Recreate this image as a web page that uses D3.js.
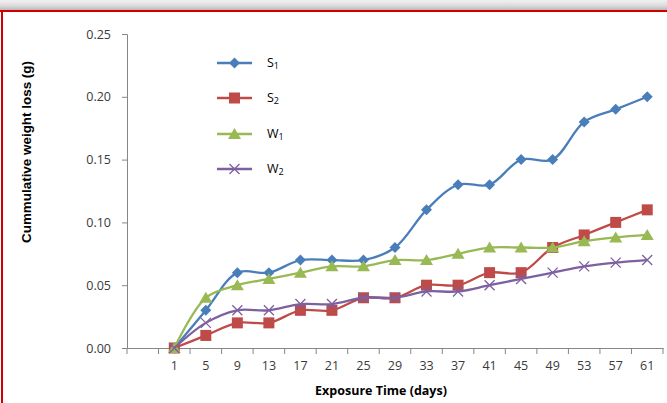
<html>
<title>Cummulative weight loss</title>
<script src="https://d3js.org/d3.v7.min.js"></script>
<style>
body { margin: 0; background: #fff; }
svg { display: block; }
.tick text { font-family: "Open Sans", sans-serif; font-size: 12.5px; fill: #3a3a3a; }
</style>
<body>
<svg id="chart" width="667" height="403"></svg>

<script>
// data
var days = ["", "1", "5", "9", "13", "17", "21", "25", "29", "33", "37", "41", "45", "49", "53", "57", "61"];
var s1 = [0, 0.03, 0.06, 0.06, 0.07, 0.07, 0.07, 0.08, 0.11, 0.13, 0.13, 0.15, 0.15, 0.18, 0.19, 0.20];
var s2 = [0, 0.01, 0.02, 0.02, 0.03, 0.03, 0.04, 0.04, 0.05, 0.05, 0.06, 0.06, 0.08, 0.09, 0.10, 0.11];
var w1 = [0, 0.04, 0.05, 0.055, 0.06, 0.065, 0.065, 0.07, 0.07, 0.075, 0.08, 0.08, 0.08, 0.085, 0.088, 0.09];
var w2 = [0, 0.02, 0.03, 0.03, 0.035, 0.035, 0.04, 0.04, 0.045, 0.045, 0.05, 0.055, 0.06, 0.065, 0.068, 0.07];
var yTicks = [0, 0.05, 0.10, 0.15, 0.20, 0.25];

var series = [
  { name: "S", sub: "1", values: s1, color: "#4A7EBB", marker: "diamond" },
  { name: "S", sub: "2", values: s2, color: "#BE4B48", marker: "square" },
  { name: "W", sub: "1", values: w1, color: "#98B954", marker: "triangle" },
  { name: "W", sub: "2", values: w2, color: "#7D60A0", marker: "cross" }
];

var svg = d3.select("#chart");

// window frame: grey bar on top, red border
var defs = svg.append("defs");
var grad = defs.append("linearGradient").attr("id", "topbar")
  .attr("x1", 0).attr("y1", 0).attr("x2", 0).attr("y2", 1);
grad.append("stop").attr("offset", "0%").attr("stop-color", "#f2f2f2");
grad.append("stop").attr("offset", "60%").attr("stop-color", "#d9d9d9");
grad.append("stop").attr("offset", "100%").attr("stop-color", "#b8b8b8");
svg.append("rect").attr("x", 0).attr("y", 0).attr("width", 667).attr("height", 10).attr("fill", "url(#topbar)");
svg.append("rect").attr("x", 0).attr("y", 10).attr("width", 667).attr("height", 2).attr("fill", "#d00000");
svg.append("rect").attr("x", 1).attr("y", 10).attr("width", 2).attr("height", 393).attr("fill", "#d00000");

var plotLeft = 127, plotRight = 663, plotTop = 34, plotBottom = 348;

var x = d3.scaleBand().domain(days).range([plotLeft, plotRight]);
var y = d3.scaleLinear().domain([0, 0.25]).range([plotBottom, plotTop]);

// y axis
var yAxis = svg.append("g").attr("transform", "translate(" + plotLeft + ",0)")
  .call(d3.axisLeft(y).tickValues(yTicks).tickFormat(d3.format(".2f")).tickSizeOuter(0).tickSize(5).tickPadding(11));
yAxis.select(".domain").attr("stroke", "#868686");
yAxis.selectAll(".tick line").attr("stroke", "#868686");

// x axis, ticks between categories
var xAxis = svg.append("g").attr("transform", "translate(0," + plotBottom + ")")
  .call(d3.axisBottom(x).tickSize(0).tickPadding(13));
xAxis.select(".domain").attr("stroke", "#868686");
var bounds = days.map(function (d) { return x(d); }).concat([plotRight]);
xAxis.selectAll("line.sep").data(bounds).enter().append("line").attr("class", "sep")
  .attr("x1", function (d) { return d; }).attr("x2", function (d) { return d; })
  .attr("y1", 0).attr("y2", 6).attr("stroke", "#868686");

var cx = function (i) { return x(days[i + 1]) + x.bandwidth() / 2; };

var line = d3.line()
  .x(function (d, i) { return cx(i); })
  .y(function (d) { return y(d); })
  .curve(d3.curveCatmullRom.alpha(0.5));

function drawMarker(g, type, color) {
  if (type === "diamond") {
    g.append("path").attr("d", "M0,-5.5L5.5,0L0,5.5L-5.5,0Z").attr("fill", color);
  } else if (type === "square") {
    g.append("rect").attr("x", -5.5).attr("y", -5.5).attr("width", 11).attr("height", 11).attr("fill", color);
  } else if (type === "triangle") {
    g.append("path").attr("d", "M0,-6L6.5,5L-6.5,5Z").attr("fill", color);
  } else {
    g.append("path").attr("d", "M-5,-5L5,5M-5,5L5,-5").attr("stroke", color).attr("stroke-width", 1.3).attr("fill", "none");
  }
}

series.forEach(function (s) {
  svg.append("path").datum(s.values)
    .attr("d", line).attr("fill", "none")
    .attr("stroke", s.color).attr("stroke-width", 2.3);
  s.values.forEach(function (v, i) {
    var g = svg.append("g").attr("transform", "translate(" + cx(i) + "," + y(v) + ")");
    drawMarker(g, s.marker, s.color);
  });
});

// legend
var legendY = [63, 98, 134, 169];
series.forEach(function (s, i) {
  var g = svg.append("g").attr("transform", "translate(217," + legendY[i] + ")");
  g.append("line").attr("x1", 0).attr("x2", 35).attr("stroke", s.color).attr("stroke-width", 2.3);
  var m = g.append("g").attr("transform", "translate(17.5,0)");
  drawMarker(m, s.marker, s.color);
  var t = g.append("text").attr("x", 50).attr("y", 4)
    .attr("font-family", "Open Sans, sans-serif").attr("font-size", 12.5).attr("fill", "#000");
  t.append("tspan").text(s.name);
  t.append("tspan").attr("font-size", 9).attr("dy", 2).text(s.sub);
});

// axis titles
svg.append("text").attr("x", 381).attr("y", 395).attr("text-anchor", "middle")
  .attr("font-family", "Open Sans, sans-serif").attr("font-weight", "bold").attr("font-size", 12.5)
  .text("Exposure Time (days)");

svg.append("text").attr("transform", "translate(31,152) rotate(-90)").attr("text-anchor", "middle")
  .attr("font-family", "Liberation Sans Narrow, Liberation Sans, sans-serif").attr("font-weight", "bold").attr("font-size", 13)
  .attr("textLength", 182).attr("lengthAdjust", "spacingAndGlyphs")
  .text("Cummulative weight loss (g)");
</script>
</body>
</html>
